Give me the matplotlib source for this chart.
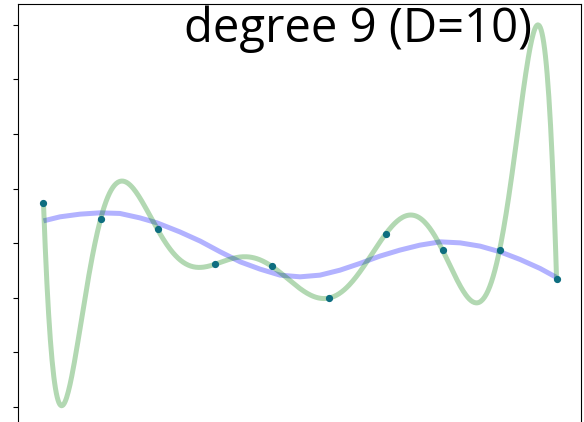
import numpy as np
import matplotlib
matplotlib.use("Agg")
import matplotlib.pyplot as plt

# sample points
x_pts = [0, 1, 2, 3, 4, 5, 6, 7, 8, 9]
y_pts = [0.733, 0.434, 0.251, -0.390, -0.421, -1.007, 0.165, -0.128, -0.128, -0.665]

# smooth reference curve (blue)
x_true = [0.0, 0.29, 0.64, 0.99, 1.34, 1.69, 1.99, 2.39, 2.75, 3.10, 3.45, 3.80, 4.15, 4.50,
          4.85, 5.20, 5.55, 5.90, 6.25, 6.60, 6.96, 7.31, 7.66, 8.01, 8.36, 8.71, 9.0]
y_true = [0.408, 0.482, 0.531, 0.555, 0.544, 0.463, 0.372, 0.207, 0.037, -0.159, -0.342,
          -0.476, -0.586, -0.617, -0.586, -0.495, -0.372, -0.238, -0.128, -0.037, 0.024,
          0.005, -0.055, -0.159, -0.299, -0.463, -0.628]

degree = 9
title = "degree 9 (D=10)"

# degree 9 fit through the 10 points
coefs = np.polyfit(x_pts, y_pts, degree)
xx = np.linspace(x_pts[0], x_pts[-1], 600)
yy = np.polyval(coefs, xx)

fig = plt.figure(figsize=(5.84, 4.22), dpi=100)
ax = fig.add_axes([17.5 / 584, -0.0083, 563 / 584, 0.9988])

ax.plot(x_true, y_true, color="b", alpha=0.3, lw=3.6, solid_capstyle="butt")
ax.plot(xx, yy, color="g", alpha=0.3, lw=3.6, solid_capstyle="butt")
ax.plot(x_pts, y_pts, "o", color="#0e6e80", ms=4.2)

ax.set_xlim(-0.456, 9.42)
ax.set_ylim(-3.34, 4.38)
ax.set_yticks(range(-3, 5))
ax.set_yticklabels([])
ax.set_xticks([])

ax.text(0.913, 0.910, title, transform=ax.transAxes, ha="right", va="baseline",
        fontsize=34, family="Open Sans")

fig.savefig("out.png", dpi=100)
